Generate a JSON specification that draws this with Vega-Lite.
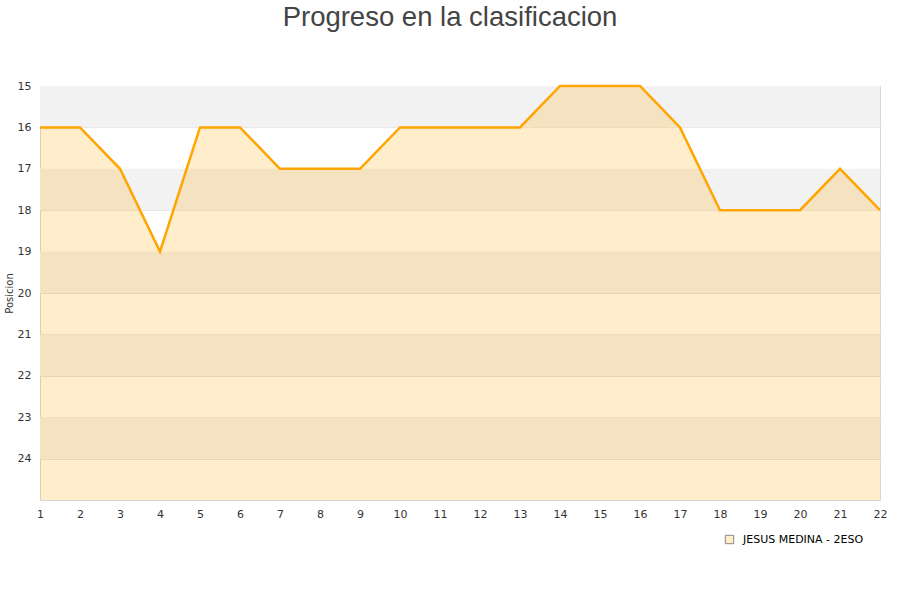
{
  "$schema": "https://vega.github.io/schema/vega-lite/v6.json",
  "autosize": "none",
  "width": 840,
  "height": 414,
  "padding": {"left": 40, "top": 86, "right": 20, "bottom": 100},
  "background": "white",
  "title": {
    "text": "Progreso en la clasificacion",
    "font": "Liberation Sans",
    "fontSize": 27.5,
    "fontWeight": "normal",
    "color": "#444444",
    "anchor": "middle",
    "dx": -10,
    "offset": 49
  },
  "config": {
    "view": {"stroke": "#d8d8d8", "strokeWidth": 1},
    "axis": {"labelFont": "DejaVu Sans", "labelFontSize": 11, "labelColor": "#333333", "titleFont": "DejaVu Sans", "titleFontSize": 10, "titleFontWeight": "normal", "titleColor": "#333333", "domain": false, "ticks": false, "labelOverlap": false, "labelFlush": false, "labelBound": false}
  },
  "datasets": {
    "pos": [
      {"jornada": 1, "posicion": 16, "serie": "JESUS MEDINA - 2ESO"},
      {"jornada": 2, "posicion": 16, "serie": "JESUS MEDINA - 2ESO"},
      {"jornada": 3, "posicion": 17, "serie": "JESUS MEDINA - 2ESO"},
      {"jornada": 4, "posicion": 19, "serie": "JESUS MEDINA - 2ESO"},
      {"jornada": 5, "posicion": 16, "serie": "JESUS MEDINA - 2ESO"},
      {"jornada": 6, "posicion": 16, "serie": "JESUS MEDINA - 2ESO"},
      {"jornada": 7, "posicion": 17, "serie": "JESUS MEDINA - 2ESO"},
      {"jornada": 8, "posicion": 17, "serie": "JESUS MEDINA - 2ESO"},
      {"jornada": 9, "posicion": 17, "serie": "JESUS MEDINA - 2ESO"},
      {"jornada": 10, "posicion": 16, "serie": "JESUS MEDINA - 2ESO"},
      {"jornada": 11, "posicion": 16, "serie": "JESUS MEDINA - 2ESO"},
      {"jornada": 12, "posicion": 16, "serie": "JESUS MEDINA - 2ESO"},
      {"jornada": 13, "posicion": 16, "serie": "JESUS MEDINA - 2ESO"},
      {"jornada": 14, "posicion": 15, "serie": "JESUS MEDINA - 2ESO"},
      {"jornada": 15, "posicion": 15, "serie": "JESUS MEDINA - 2ESO"},
      {"jornada": 16, "posicion": 15, "serie": "JESUS MEDINA - 2ESO"},
      {"jornada": 17, "posicion": 16, "serie": "JESUS MEDINA - 2ESO"},
      {"jornada": 18, "posicion": 18, "serie": "JESUS MEDINA - 2ESO"},
      {"jornada": 19, "posicion": 18, "serie": "JESUS MEDINA - 2ESO"},
      {"jornada": 20, "posicion": 18, "serie": "JESUS MEDINA - 2ESO"},
      {"jornada": 21, "posicion": 17, "serie": "JESUS MEDINA - 2ESO"},
      {"jornada": 22, "posicion": 18, "serie": "JESUS MEDINA - 2ESO"}
    ],
    "bands": [
      {"desde": 15, "hasta": 16},
      {"desde": 17, "hasta": 18},
      {"desde": 19, "hasta": 20},
      {"desde": 21, "hasta": 22},
      {"desde": 23, "hasta": 24}
    ]
  },
  "layer": [
    {
      "data": {"name": "bands"},
      "mark": {"type": "rect", "fill": "#f2f2f2"},
      "encoding": {
        "x": {"datum": 1, "type": "quantitative", "scale": {"domain": [1, 22], "nice": false, "zero": false},
              "axis": {"values": [1,2,3,4,5,6,7,8,9,10,11,12,13,14,15,16,17,18,19,20,21,22], "tickCount": 22, "title": null, "grid": false, "labelPadding": 8, "labelOverlap": false, "labelSeparation": 0, "labelFlush": false}},
        "x2": {"datum": 22},
        "y": {"field": "desde", "type": "quantitative",
              "scale": {"domain": [15, 25], "reverse": true, "nice": false, "zero": false},
              "axis": {"values": [15,16,17,18,19,20,21,22,23,24], "title": "Posicion", "titlePadding": 3, "labelPadding": 9, "labelOverlap": false, "labelFlush": false, "grid": true, "gridColor": "#e2e2e2", "gridWidth": 1}},
        "y2": {"field": "hasta"}
      }
    },
    {
      "data": {"name": "pos"},
      "mark": {"type": "area", "clip": true},
      "encoding": {
        "x": {"field": "jornada", "type": "quantitative",
              "axis": {"values": [1,2,3,4,5,6,7,8,9,10,11,12,13,14,15,16,17,18,19,20,21,22], "tickCount": 22, "title": null, "grid": false, "labelPadding": 8, "labelOverlap": false, "labelSeparation": 0, "labelFlush": false}},
        "y": {"field": "posicion", "type": "quantitative"},
        "y2": {"datum": 25},
        "fill": {"field": "serie", "type": "nominal", "scale": {"range": ["rgba(255,165,0,0.2)"]},
                 "legend": {"title": null, "orient": "none", "legendX": 684, "legendY": 448, "symbolType": "square", "symbolSize": 70,
                            "symbolStrokeColor": "#888888", "symbolStrokeWidth": 1, "labelOffset": 8,
                            "labelFont": "DejaVu Sans", "labelFontSize": 11, "labelColor": "#000000"}}
      }
    },
    {
      "data": {"name": "pos"},
      "mark": {"type": "line", "color": "#ffa500", "strokeWidth": 2.5},
      "encoding": {
        "x": {"field": "jornada", "type": "quantitative",
              "axis": {"values": [1,2,3,4,5,6,7,8,9,10,11,12,13,14,15,16,17,18,19,20,21,22], "tickCount": 22, "title": null, "grid": false, "labelPadding": 8, "labelOverlap": false, "labelSeparation": 0, "labelFlush": false}},
        "y": {"field": "posicion", "type": "quantitative"}
      }
    }
  ]
}
